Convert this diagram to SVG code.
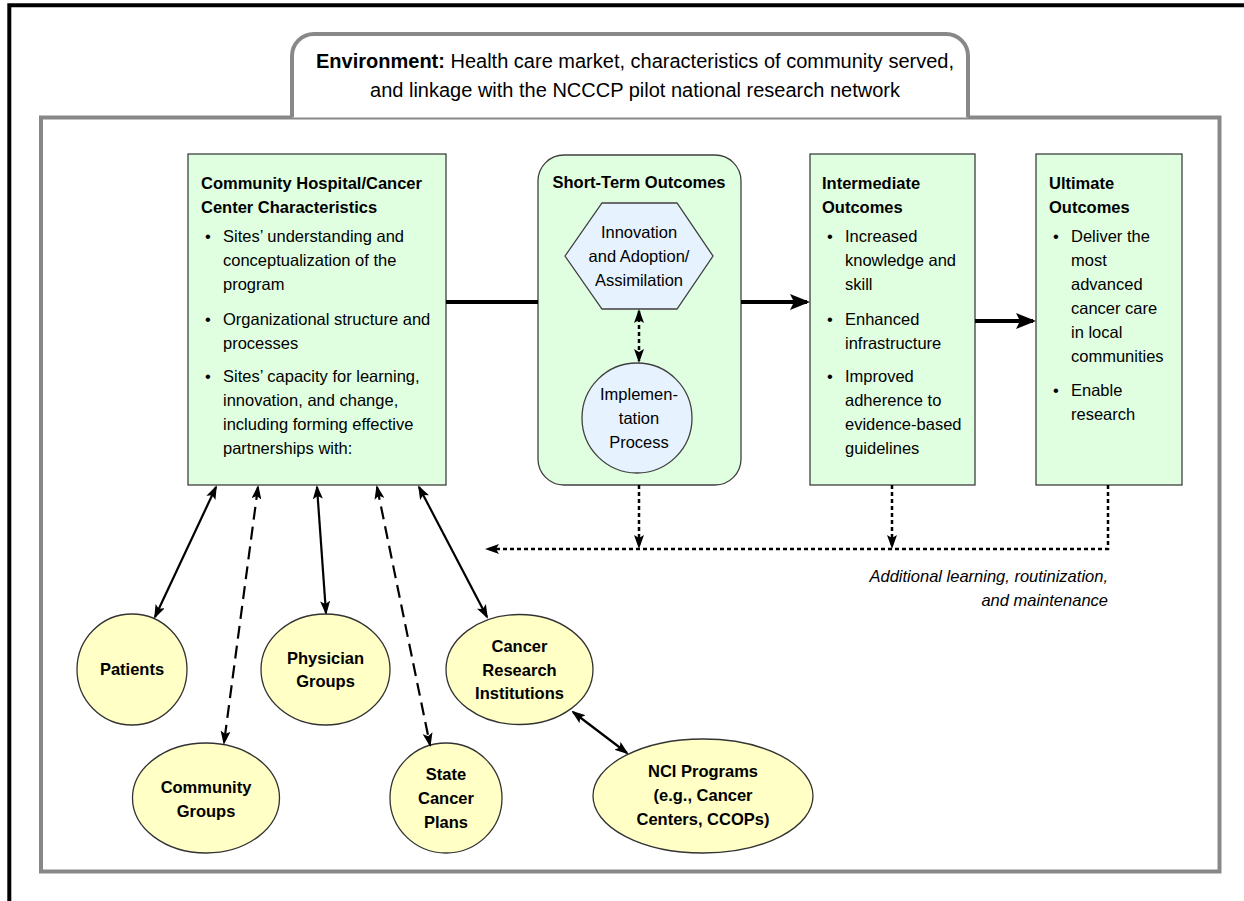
<svg xmlns="http://www.w3.org/2000/svg" width="1244" height="901" viewBox="0 0 1244 901">
<style>
.t{font-family:"Liberation Sans",Arial,sans-serif;font-size:16.5px;fill:#000}
.b{font-weight:bold}
.c{text-anchor:middle}
.r{text-anchor:end}
.i{font-style:italic}
.box{fill:#e0ffe0;stroke:#404040;stroke-width:1.3}
.blue{fill:#e6f3ff;stroke:#404040;stroke-width:1.3}
.yel{fill:#ffffc6;stroke:#333;stroke-width:1.3}
.thin{fill:none;stroke:#000;stroke-width:2.2}
.dash{fill:none;stroke:#000;stroke-width:2.2;stroke-dasharray:13 7}
.dot{fill:none;stroke:#000;stroke-width:2.5;stroke-dasharray:4 3}
.thick{fill:none;stroke:#000;stroke-width:4}
</style>
<defs>
<marker id="ah" viewBox="0 0 14 10" refX="12" refY="5" markerWidth="14" markerHeight="10" markerUnits="userSpaceOnUse" orient="auto-start-reverse"><path d="M0,0 L14,5 L0,10 L3,5 z" fill="#000"/></marker>
<marker id="ahT" viewBox="0 0 20 16" refX="17" refY="8" markerWidth="20" markerHeight="16" markerUnits="userSpaceOnUse" orient="auto"><path d="M0,0 L20,8 L0,16 L4,8 z" fill="#000"/></marker>
</defs>
<rect width="1244" height="901" fill="#fff"/>
<g id="page-border">
<path d="M9.3,901 V5.3 H1244" fill="none" stroke="#000" stroke-width="4"/>
</g>
<g id="environment">
<rect x="41" y="117.5" width="1178.5" height="754" fill="#fff" stroke="#888" stroke-width="4"/>
<path d="M292,117.5 V56 A22,22 0 0 1 314,34 H946 A22,22 0 0 1 968,56 V117.5" fill="#fff" stroke="#888" stroke-width="4"/>
<text class="t c" x="635" y="68" style="font-size:20px"><tspan class="b">Environment:</tspan> Health care market, characteristics of community served,</text>
<text class="t c" x="635" y="96.5" style="font-size:20px">and linkage with the NCCCP pilot national research network</text>
</g>
<g id="community-hospital">
<rect class="box" x="188" y="154" width="258" height="331"/>
<text class="t b" x="201" y="189">Community Hospital/Cancer</text>
<text class="t b" x="201" y="213">Center Characteristics</text>
<text class="t" x="205" y="242">•</text>
<text class="t" x="223" y="242">Sites’ understanding and</text>
<text class="t" x="223" y="266">conceptualization of the</text>
<text class="t" x="223" y="290">program</text>
<text class="t" x="205" y="325">•</text>
<text class="t" x="223" y="325">Organizational structure and</text>
<text class="t" x="223" y="349">processes</text>
<text class="t" x="205" y="382">•</text>
<text class="t" x="223" y="382">Sites’ capacity for learning,</text>
<text class="t" x="223" y="406">innovation, and change,</text>
<text class="t" x="223" y="430">including forming effective</text>
<text class="t" x="223" y="454">partnerships with:</text>
</g>
<g id="short-term">
<rect class="box" x="538" y="155" width="203" height="330" rx="26"/>
<text class="t b c" x="639" y="188">Short-Term Outcomes</text>
</g>
<g id="innovation">
<polygon class="blue" points="565,256 602,203 677,203 713,256 677,309 602,309"/>
<text class="t c" x="639" y="238">Innovation</text>
<text class="t c" x="639" y="262">and Adoption/</text>
<text class="t c" x="639" y="286">Assimilation</text>
</g>
<g id="implementation">
<circle class="blue" cx="637" cy="418" r="55"/>
<text class="t c" x="639" y="400">Implemen-</text>
<text class="t c" x="639" y="424">tation</text>
<text class="t c" x="639" y="448">Process</text>
</g>
<g id="intermediate">
<rect class="box" x="810" y="154" width="165" height="331"/>
<text class="t b" x="822" y="189">Intermediate</text>
<text class="t b" x="822" y="213">Outcomes</text>
<text class="t" x="827" y="242">•</text>
<text class="t" x="845" y="242">Increased</text>
<text class="t" x="845" y="266">knowledge and</text>
<text class="t" x="845" y="290">skill</text>
<text class="t" x="827" y="325">•</text>
<text class="t" x="845" y="325">Enhanced</text>
<text class="t" x="845" y="349">infrastructure</text>
<text class="t" x="827" y="382">•</text>
<text class="t" x="845" y="382">Improved</text>
<text class="t" x="845" y="406">adherence to</text>
<text class="t" x="845" y="430">evidence-based</text>
<text class="t" x="845" y="454">guidelines</text>
</g>
<g id="ultimate">
<rect class="box" x="1036" y="154" width="146" height="331"/>
<text class="t b" x="1049" y="189">Ultimate</text>
<text class="t b" x="1049" y="213">Outcomes</text>
<text class="t" x="1053" y="242">•</text>
<text class="t" x="1071" y="242">Deliver the</text>
<text class="t" x="1071" y="266">most</text>
<text class="t" x="1071" y="290">advanced</text>
<text class="t" x="1071" y="314">cancer care</text>
<text class="t" x="1071" y="338">in local</text>
<text class="t" x="1071" y="362">communities</text>
<text class="t" x="1053" y="396">•</text>
<text class="t" x="1071" y="396">Enable</text>
<text class="t" x="1071" y="420">research</text>
</g>
<g id="patients">
<ellipse class="yel" cx="132" cy="669.5" rx="55" ry="55.5"/>
<text class="t b c" x="132" y="675">Patients</text>
</g>
<g id="community-groups">
<ellipse class="yel" cx="206" cy="798" rx="73.5" ry="55"/>
<text class="t b c" x="206" y="793">Community</text>
<text class="t b c" x="206" y="817">Groups</text>
</g>
<g id="physician-groups">
<ellipse class="yel" cx="325.5" cy="669.5" rx="64.5" ry="55.5"/>
<text class="t b c" x="325.5" y="664">Physician</text>
<text class="t b c" x="325.5" y="687">Groups</text>
</g>
<g id="state-cancer-plans">
<ellipse class="yel" cx="446" cy="798" rx="56" ry="55"/>
<text class="t b c" x="446" y="780">State</text>
<text class="t b c" x="446" y="804">Cancer</text>
<text class="t b c" x="446" y="828">Plans</text>
</g>
<g id="cancer-research">
<ellipse class="yel" cx="519.5" cy="669.5" rx="73.5" ry="55"/>
<text class="t b c" x="519.5" y="652">Cancer</text>
<text class="t b c" x="519.5" y="676">Research</text>
<text class="t b c" x="519.5" y="699">Institutions</text>
</g>
<g id="nci-programs">
<ellipse class="yel" cx="703" cy="796" rx="110" ry="57"/>
<text class="t b c" x="703" y="777">NCI Programs</text>
<text class="t b c" x="703" y="801">(e.g., Cancer</text>
<text class="t b c" x="703" y="825">Centers, CCOPs)</text>
</g>
<g id="connectors">
<path class="thick" d="M446,302 H538"/>
<path class="thick" d="M741,302 H807" marker-end="url(#ahT)"/>
<path class="thick" d="M975,321 H1033" marker-end="url(#ahT)"/>
<path class="dot" d="M639,311 V361" marker-start="url(#ah)" marker-end="url(#ah)"/>
<path class="dot" d="M639,485 V547" marker-end="url(#ah)"/>
<path class="dot" d="M892,485 V547" marker-end="url(#ah)"/>
<path class="dot" d="M1108,485 V549 H487" marker-end="url(#ah)"/>
<path class="thin" d="M216,487 L155,617" marker-start="url(#ah)" marker-end="url(#ah)"/>
<path class="dash" d="M258,487 L224,743" marker-start="url(#ah)" marker-end="url(#ah)"/>
<path class="thin" d="M317,487 L326,613" marker-start="url(#ah)" marker-end="url(#ah)"/>
<path class="dash" d="M377,487 L430,745" marker-start="url(#ah)" marker-end="url(#ah)"/>
<path class="thin" d="M419,487 L487,617" marker-start="url(#ah)" marker-end="url(#ah)"/>
<path class="thin" d="M573,712 L627,753" marker-start="url(#ah)" marker-end="url(#ah)"/>
</g>
<g id="feedback-label">
<text class="t i r" x="1108" y="582">Additional learning, routinization,</text>
<text class="t i r" x="1108" y="606">and maintenance</text>
</g>
</svg>
